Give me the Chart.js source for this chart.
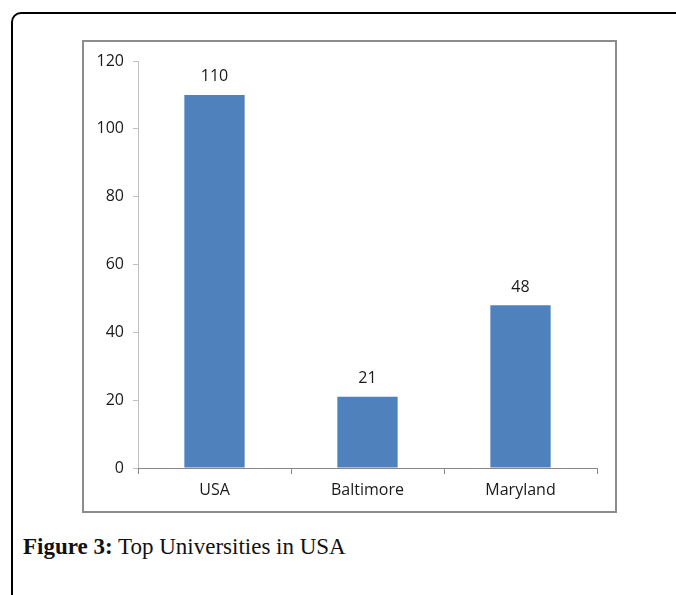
<!DOCTYPE html>
<html>
<head>
<meta charset="utf-8">
<script src="https://cdn.jsdelivr.net/npm/chart.js@4"></script>
<style>
    body { margin: 0; background: #fff; width: 676px; height: 595px; overflow: hidden; position: relative; }
    .frame { position: absolute; left: 11px; top: 12px; width: 700px; height: 620px; border: 2px solid #000; border-radius: 10px; }
    .chart-box { position: absolute; left: 82px; top: 40px; width: 531px; height: 469px; border: 2px solid #8c8c8c; background: #fff; }
    .caption { position: absolute; left: 23px; top: 534px; font-family: "Liberation Serif", "DejaVu Serif", serif; font-size: 23px; color: #111; }
    .caption b { font-size: 23px; }
</style>
</head>
<body>
<div class="frame"></div>
<div class="chart-box">
    <canvas id="barChart" width="531" height="469"></canvas>
</div>
<div class="caption"><b>Figure 3:</b> Top Universities in USA</div>

<script>
// Chart data
const categories = ['USA', 'Baltimore', 'Maryland'];
const universities = [110, 21, 48];
const yTicks = [0, 20, 40, 60, 80, 100, 120];

// Draws the value above each bar
const valueLabels = {
    id: 'valueLabels',
    afterDatasetsDraw(chart) {
        const ctx = chart.ctx;
        const meta = chart.getDatasetMeta(0);
        ctx.save();
        ctx.font = '16px "Open Sans", sans-serif';
        ctx.fillStyle = '#1a1a1a';
        ctx.textAlign = 'center';
        ctx.textBaseline = 'middle';
        meta.data.forEach((bar, i) => {
            ctx.fillText(String(universities[i]), bar.x, bar.y - 18);
        });
        ctx.restore();
    }
};

document.addEventListener('DOMContentLoaded', function() {
    const ctx = document.getElementById('barChart').getContext('2d');
    new Chart(ctx, {
        type: 'bar',
        data: {
            labels: categories,
            datasets: [{
                data: universities,
                backgroundColor: '#4f81bd',
                borderWidth: 0,
                barPercentage: 0.394,
                categoryPercentage: 1
            }]
        },
        options: {
            responsive: false,
            animation: false,
            layout: { padding: { top: 19, right: 18, left: 0, bottom: 0 } },
            plugins: {
                legend: { display: false },
                tooltip: { enabled: false }
            },
            scales: {
                y: {
                    min: 0,
                    max: 120,
                    afterFit: function(scale) { scale.width = 54; },
                    afterBuildTicks: function(scale) {
                        scale.ticks = yTicks.map(v => ({ value: v }));
                    },
                    ticks: {
                        color: '#1a1a1a',
                        padding: 9,
                        font: { family: '"Open Sans", sans-serif', size: 16 }
                    },
                    grid: {
                        drawOnChartArea: false,
                        drawTicks: true,
                        tickLength: 5,
                        tickColor: '#bfbfbf'
                    },
                    border: { color: '#bfbfbf', width: 1 }
                },
                x: {
                    afterFit: function(scale) { scale.height = 43; },
                    ticks: {
                        color: '#1a1a1a',
                        padding: 7,
                        font: { family: '"Open Sans", sans-serif', size: 16 }
                    },
                    grid: {
                        offset: true,
                        drawOnChartArea: false,
                        drawTicks: true,
                        tickLength: 6,
                        tickColor: '#868686'
                    },
                    border: { color: '#868686', width: 1 }
                }
            }
        },
        plugins: [valueLabels]
    });
});
</script>
</body>
</html>
